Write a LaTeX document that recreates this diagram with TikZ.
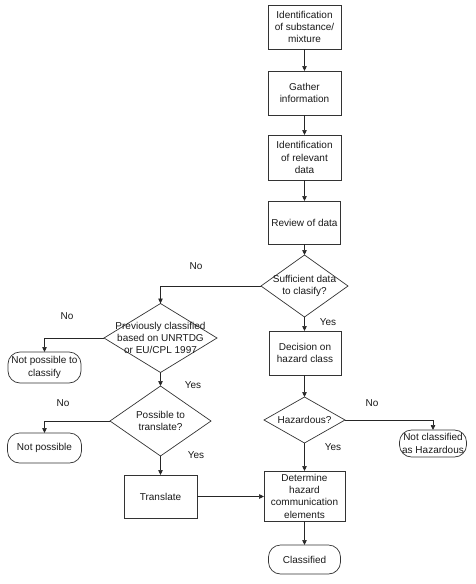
\documentclass[tikz,border=0pt]{standalone}
\usepackage{fontspec}
\setmainfont{Liberation Sans}
\usetikzlibrary{shapes.geometric,arrows.meta}
\begin{document}
\begin{tikzpicture}[x=1pt,y=-1pt,
  every node/.style={font=\fontsize{10}{12.3}\selectfont, text=black!90, align=center, inner sep=0pt, outer sep=0pt},
  box/.style={draw=black!80, line width=0.7pt, rectangle, minimum width=#1},
  box/.default=73pt,
  term/.style={draw=black!80, line width=0.7pt, rectangle, rounded corners=12pt},
  dia/.style={draw=black!80, line width=0.7pt, diamond},
  lbl/.style={},
  flow/.style={draw=black!85, line width=0.7pt, -{Triangle[length=5pt,width=4.5pt]}}
]
\useasboundingbox (0,0) rectangle (476,584);

% main column
\node[box, minimum height=44pt] (b1) at (304.5,27) {Identification\\of substance/\\mixture};
\node[box, minimum height=44pt] (b2) at (304.5,93) {Gather\\information};
\node[box, minimum height=45pt] (b3) at (304.5,157.5) {Identification\\of relevant\\data};
\node[box=72pt, minimum height=43pt] (b4) at (304.5,222.5) {Review of data};
\node[dia, minimum width=87pt, minimum height=62pt] (d1) at (304.5,286) {};
\node (d1t) at (d1) {Sufficient data\\to clasify?};
\node[box=72pt, minimum height=44pt] (b5) at (305,353) {Decision on\\hazard class};
\node[dia, minimum width=81pt, minimum height=46pt] (d3) at (304.5,420) {};
\node (d3t) at (d3) {Hazardous?};
\node[box=81pt, minimum height=50pt] (b6) at (304.5,496) {Determine\\hazard\\communication\\elements};
\node[term, minimum width=72pt, minimum height=29pt] (t1) at (304.5,559.5) {Classified};
\node[term, minimum width=67pt, minimum height=27pt] (t2) at (433,443.5) {Not classified\\as Hazardous};

% left column
\node[dia, minimum width=113pt, minimum height=69pt] (d2) at (160.5,338) {};
\node (d2t) at (d2) {Previously classified\\based on UNRTDG\\or EU/CPL 1997};
\node[term, minimum width=73pt, minimum height=31pt] (t3) at (44.5,367.5) {Not possible to\\classify};
\node[dia, minimum width=101pt, minimum height=70pt] (d4) at (160.5,421) {};
\node (d4t) at (d4) {Possible to\\translate?};
\node[term, minimum width=74pt, minimum height=30pt] (t4) at (44.5,448) {Not possible};
\node[box, minimum height=43pt] (b7) at (160.5,496.5) {Translate};

% labels
\node[lbl] (l1) at (196,266) {No};
\node[lbl] (l2) at (328,322) {Yes};
\node[lbl] (l3) at (67,316) {No};
\node[lbl] (l4) at (193,385) {Yes};
\node[lbl] (l5) at (63,403) {No};
\node[lbl] (l6) at (196,455) {Yes};
\node[lbl] (l7) at (372,403) {No};
\node[lbl] (l8) at (333,447) {Yes};

% connectors
\draw[flow] (b1) -- (b2);
\draw[flow] (b2) -- (b3);
\draw[flow] (b3) -- (b4);
\draw[flow] (b4) -- (d1);
\draw[flow] (d1.south) -- (d1.south |- b5.north);
\draw[flow] (d1.west) -| (d2.north);
\draw[flow] (d2.west) -| (t3.north);
\draw[flow] (d2.south) -- (d4.north);
\draw[flow] (d4.west) -| (t4.north);
\draw[flow] (d4.south) -- (b7.north);
\draw[flow] (b7.east) -- (b6.west |- b7.east);
\draw[flow] (b5.south -| d3.north) -- (d3.north);
\draw[flow] (d3.east) -| (t2.north);
\draw[flow] (d3.south) -- (b6.north);
\draw[flow] (b6.south) -- (t1.north);
\end{tikzpicture}
\end{document}
